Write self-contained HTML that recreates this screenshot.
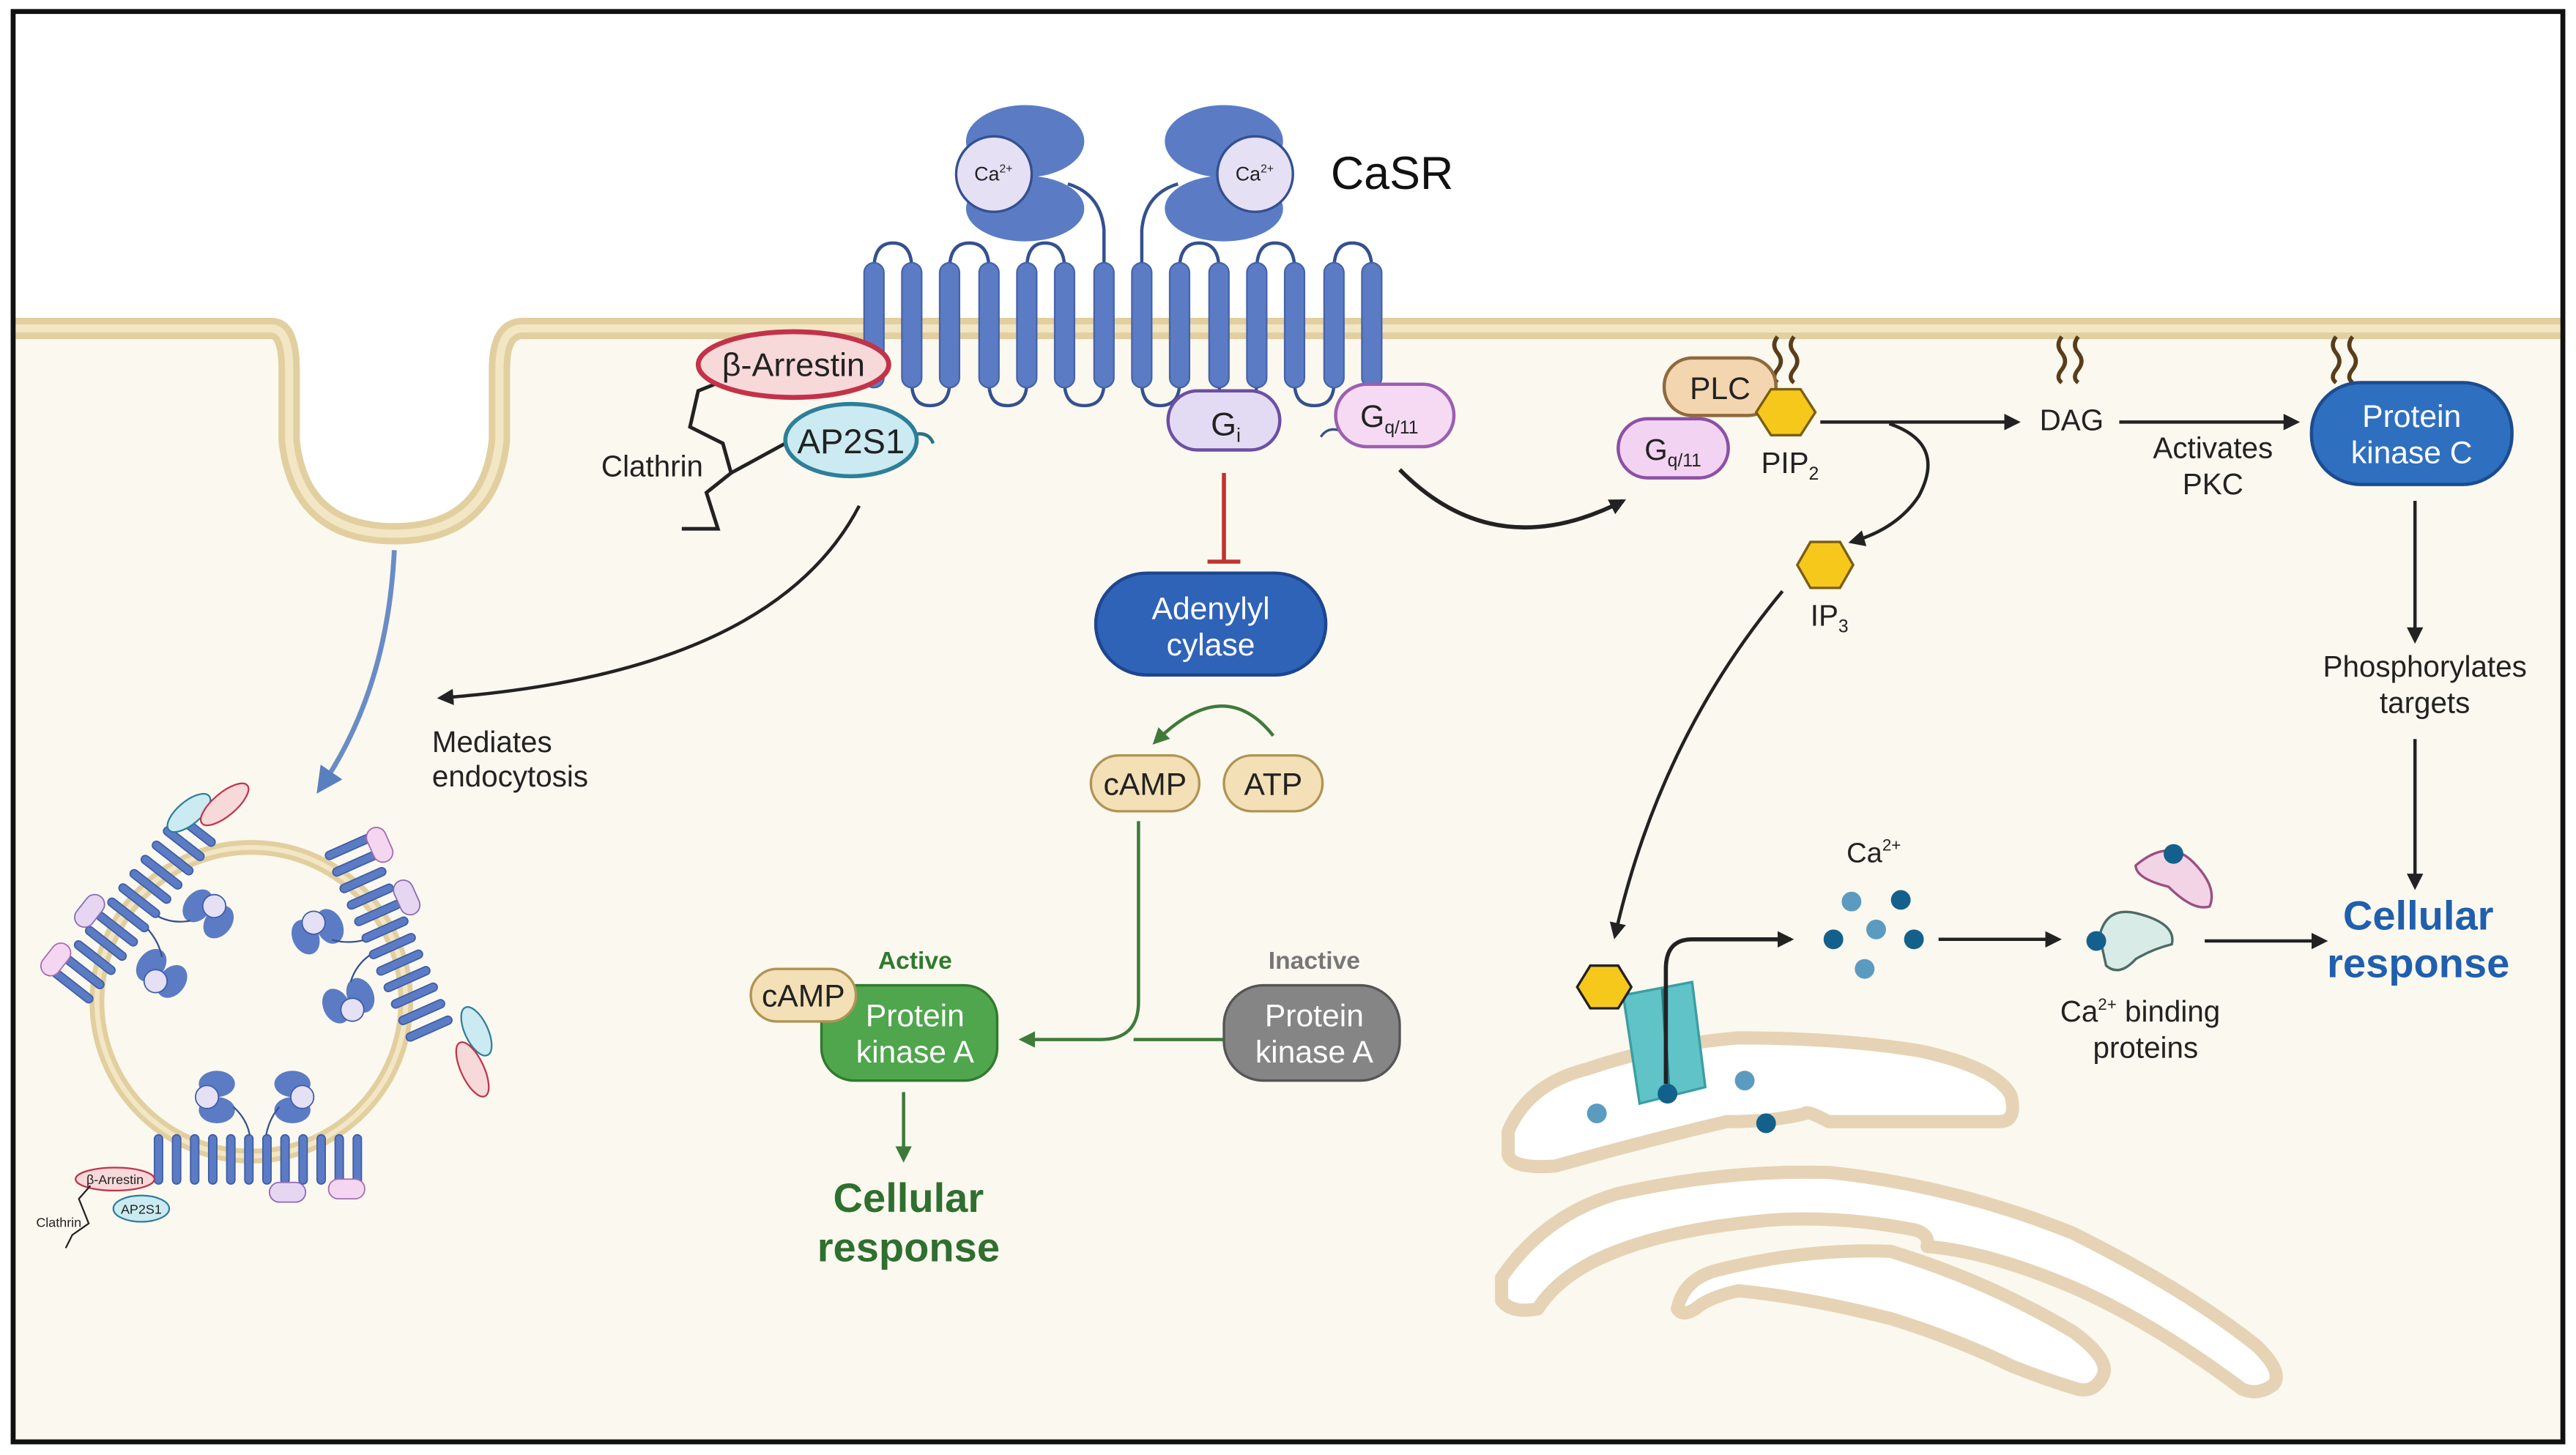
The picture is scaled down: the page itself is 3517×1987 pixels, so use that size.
<!DOCTYPE html>
<html><head><meta charset="utf-8"><style>
html,body{margin:0;padding:0;background:#fff}
svg{display:block}
text{font-family:"Liberation Sans",sans-serif}
</style></head><body>
<svg width="3517" height="1987" viewBox="0 0 1568 886" preserveAspectRatio="none" xmlns="http://www.w3.org/2000/svg">
<defs>
<marker id="ak" markerWidth="10" markerHeight="10" refX="8" refY="5" orient="auto" markerUnits="userSpaceOnUse"><path d="M0,0 L10,5 L0,10 z" fill="#222"/></marker>
<marker id="ag" markerWidth="10" markerHeight="10" refX="8" refY="5" orient="auto" markerUnits="userSpaceOnUse"><path d="M0,0 L10,5 L0,10 z" fill="#3f7a3a"/></marker>
<marker id="ab" markerWidth="16" markerHeight="16" refX="12" refY="8" orient="auto" markerUnits="userSpaceOnUse"><path d="M0,0 L16,8 L0,16 z" fill="#5a7fbf"/></marker>
<g id="rec">
  <g fill="#5b7cc4" stroke="#3e5ea8" stroke-width="0.8">
    <rect x="-62" y="-15" width="5" height="30" rx="2.5"/><rect x="-51" y="-15" width="5" height="30" rx="2.5"/>
    <rect x="-40" y="-15" width="5" height="30" rx="2.5"/><rect x="-29" y="-15" width="5" height="30" rx="2.5"/>
    <rect x="-18" y="-15" width="5" height="30" rx="2.5"/><rect x="-7" y="-15" width="5" height="30" rx="2.5"/>
    <rect x="4" y="-15" width="5" height="30" rx="2.5"/><rect x="15" y="-15" width="5" height="30" rx="2.5"/>
    <rect x="26" y="-15" width="5" height="30" rx="2.5"/><rect x="37" y="-15" width="5" height="30" rx="2.5"/>
    <rect x="48" y="-15" width="5" height="30" rx="2.5"/><rect x="59" y="-15" width="5" height="30" rx="2.5"/>
  </g>
  <g fill="#5b7cc4"><ellipse cx="-24" cy="-46" rx="11" ry="8"/><ellipse cx="-24" cy="-30" rx="11" ry="8"/><ellipse cx="22" cy="-46" rx="11" ry="8"/><ellipse cx="22" cy="-30" rx="11" ry="8"/></g>
  <circle cx="-30" cy="-38" r="7" fill="#e6e0f5" stroke="#3e5ea8" stroke-width="0.8"/>
  <circle cx="28" cy="-38" r="7" fill="#e6e0f5" stroke="#3e5ea8" stroke-width="0.8"/>
  <path d="M-4,-15 Q-6,-25 -14,-32 M6,-15 Q8,-25 14,-32" fill="none" stroke="#34508f" stroke-width="1"/>
  <rect x="8" y="14" width="22" height="12" rx="6" fill="#e6d6f2" stroke="#8b6bb5" stroke-width="0.8"/>
  <rect x="44" y="12" width="22" height="12" rx="6" fill="#f4d6f0" stroke="#a86bb5" stroke-width="0.8"/>
</g>
</defs>

<rect x="0" y="0" width="1568" height="886" fill="#fff"/>
<path d="M8,203 L170,203 Q180,203 180,230 L180,270 Q185,320 240,320 Q295,320 300,270 L300,230 Q300,203 315,203 L1560,203 L1560,878 L8,878 Z" fill="#fbf8ef"/>
<path d="M8,200 L165,200 Q176,200 176,225 L176,268 Q182,325 240,325 Q298,325 304,268 L304,225 Q304,200 318,200 L1560,200" fill="none" stroke="#e2cf9f" stroke-width="13"/>
<path d="M8,200 L165,200 Q176,200 176,225 L176,268 Q182,325 240,325 Q298,325 304,268 L304,225 Q304,200 318,200 L1560,200" fill="none" stroke="#f3e6c4" stroke-width="5"/>
<rect x="8" y="7" width="1552" height="871" fill="none" stroke="#111" stroke-width="3"/>

<!-- receptor loops -->
<g fill="none" stroke="#34508f" stroke-width="2">
  <path d="M532,164 Q532,148 543.5,148 Q555,148 555,164"/>
  <path d="M578,164 Q578,148 590,148 Q602,148 602,164"/>
  <path d="M625,164 Q625,148 636,148 Q648,148 648,164"/>
  <path d="M718,164 Q718,148 730,148 Q742,148 742,164"/>
  <path d="M765,164 Q765,148 776,148 Q788,148 788,164"/>
  <path d="M812,164 Q812,148 823,148 Q835,148 835,164"/>
  <path d="M555,233 Q555,247 566,247 Q578,247 578,233"/>
  <path d="M602,233 Q602,247 613,247 Q625,247 625,233"/>
  <path d="M648,233 Q648,247 660,247 Q672,247 672,233"/>
  <path d="M695,233 Q695,247 706,247 Q718,247 718,233"/>
  <path d="M742,233 Q742,247 753,247 Q765,247 765,233"/>
  <path d="M788,233 Q788,247 800,247 Q812,247 812,233"/>
  <path d="M672,164 L672,140 Q670,118 650,112"/>
  <path d="M695,164 L695,140 Q697,118 717,112"/>
</g>
<g fill="#5b7cc4" stroke="#4563a8" stroke-width="1">
  <rect x="526" y="160" width="12" height="76" rx="6"/><rect x="549" y="160" width="12" height="76" rx="6"/>
  <rect x="572" y="160" width="12" height="76" rx="6"/><rect x="596" y="160" width="12" height="76" rx="6"/>
  <rect x="619" y="160" width="12" height="76" rx="6"/><rect x="642" y="160" width="12" height="76" rx="6"/>
  <rect x="666" y="160" width="12" height="76" rx="6"/><rect x="689" y="160" width="12" height="76" rx="6"/>
  <rect x="712" y="160" width="12" height="76" rx="6"/><rect x="736" y="160" width="12" height="76" rx="6"/>
  <rect x="759" y="160" width="12" height="76" rx="6"/><rect x="782" y="160" width="12" height="76" rx="6"/>
  <rect x="806" y="160" width="12" height="76" rx="6"/><rect x="829" y="160" width="12" height="76" rx="6"/>
</g>
<!-- heads -->
<g fill="#5b7cc4">
  <ellipse cx="624" cy="86" rx="36" ry="22"/><ellipse cx="624" cy="127" rx="36" ry="20"/>
  <ellipse cx="745" cy="86" rx="36" ry="22"/><ellipse cx="745" cy="127" rx="36" ry="20"/>
</g>
<circle cx="605" cy="106" r="23" fill="#e6e0f5" stroke="#34508f" stroke-width="1.5"/>
<circle cx="764" cy="106" r="23" fill="#e6e0f5" stroke="#34508f" stroke-width="1.5"/>
<text x="593" y="110" font-size="12" fill="#222">Ca<tspan font-size="7" dy="-5">2+</tspan></text>
<text x="752" y="110" font-size="12" fill="#222">Ca<tspan font-size="7" dy="-5">2+</tspan></text>
<text x="810" y="115" font-size="28" fill="#111">CaSR</text>

<rect x="711" y="238" width="68" height="36" rx="18" fill="#e3dbf3" stroke="#6c4fa3" stroke-width="2"/>
<text x="737" y="265" font-size="20" fill="#222">G<tspan font-size="12" dy="4">i</tspan></text>
<path d="M804,266 Q808,260 815,262" fill="none" stroke="#34508f" stroke-width="1.5"/>
<rect x="813" y="234" width="72" height="38" rx="19" fill="#f6daf4" stroke="#9b5fb0" stroke-width="2"/>
<text x="828" y="260" font-size="19" fill="#222">G<tspan font-size="11" dy="4">q/11</tspan></text>

<g fill="none" stroke="#222" stroke-width="2.2">
  <path d="M445,230 L425,238 L420,260 L440,270 L445,288 L430,300 L437,322 L415,322"/>
  <path d="M445,288 L478,270"/>
</g>
<ellipse cx="483" cy="222" rx="58" ry="20" fill="#f7d9da" stroke="#c2334a" stroke-width="3"/>
<text x="483" y="229" font-size="20" text-anchor="middle" fill="#222">β-Arrestin</text>
<path d="M555,265 Q565,262 568,270" fill="none" stroke="#2b6f88" stroke-width="2"/>
<ellipse cx="518" cy="268" rx="40" ry="22" fill="#cbeaf1" stroke="#2d7f99" stroke-width="2.5"/>
<text x="518" y="276" font-size="21" text-anchor="middle" fill="#222">AP2S1</text>
<text x="366" y="290" font-size="18" fill="#222">Clathrin</text>

<path d="M523,308 Q470,410 268,425" fill="none" stroke="#222" stroke-width="2" marker-end="url(#ak)"/>
<text x="263" y="458" font-size="18" fill="#222">Mediates</text>
<text x="263" y="479" font-size="18" fill="#222">endocytosis</text>
<path d="M240,335 Q236,420 195,480" fill="none" stroke="#6a8cc6" stroke-width="3" marker-end="url(#ab)"/>

<!-- vesicle -->
<circle cx="153" cy="610" r="94" fill="none" stroke="#e2cf9f" stroke-width="9"/>
<circle cx="153" cy="610" r="94" fill="none" stroke="#f3e6c4" stroke-width="3"/>
<use href="#rec" transform="translate(156,706)"/>
<use href="#rec" transform="translate(82,552) rotate(128)"/>
<use href="#rec" transform="translate(237,572) rotate(246)"/>
<ellipse cx="70" cy="718" rx="24" ry="7" fill="#f7d9da" stroke="#c2334a" stroke-width="1"/>
<text x="70" y="721" font-size="8" text-anchor="middle" fill="#222">β-Arrestin</text>
<ellipse cx="86" cy="736" rx="17" ry="8" fill="#cbeaf1" stroke="#2d7f99" stroke-width="1"/>
<text x="86" y="739" font-size="8" text-anchor="middle" fill="#222">AP2S1</text>
<text x="22" y="747" font-size="8" fill="#222">Clathrin</text>
<path d="M55,722 L48,730 L54,745 L44,752 L40,760" fill="none" stroke="#222" stroke-width="1"/>
<g transform="translate(115,495) rotate(-40)"><ellipse cx="0" cy="0" rx="16" ry="7" fill="#cbeaf1" stroke="#2d7f99"/><ellipse cx="20" cy="10" rx="18" ry="7" fill="#f7d9da" stroke="#c2334a"/></g>
<g transform="translate(290,628) rotate(65)"><ellipse cx="0" cy="0" rx="16" ry="7" fill="#cbeaf1" stroke="#2d7f99"/><ellipse cx="20" cy="12" rx="18" ry="7" fill="#f7d9da" stroke="#c2334a"/></g>

<!-- Gi path -->
<line x1="745" y1="288" x2="745" y2="342" stroke="#c0342d" stroke-width="2.5"/>
<line x1="735" y1="342" x2="755" y2="342" stroke="#c0342d" stroke-width="2.5"/>
<rect x="667" y="349" width="140" height="62" rx="31" fill="#2f63b8" stroke="#1d4690" stroke-width="2"/>
<text x="737" y="377" font-size="19" text-anchor="middle" fill="#fff">Adenylyl</text>
<text x="737" y="399" font-size="19" text-anchor="middle" fill="#fff">cylase</text>
<path d="M775,448 Q745,410 703,452" fill="none" stroke="#3f7a3a" stroke-width="2" marker-end="url(#ag)"/>
<rect x="664" y="460" width="66" height="34" rx="17" fill="#f4e0b6" stroke="#b09455" stroke-width="1.5"/>
<text x="697" y="484" font-size="19" text-anchor="middle" fill="#222">cAMP</text>
<rect x="745" y="460" width="60" height="34" rx="17" fill="#f4e0b6" stroke="#b09455" stroke-width="1.5"/>
<text x="775" y="484" font-size="19" text-anchor="middle" fill="#222">ATP</text>
<path d="M693,500 L693,610 Q693,633 670,633 L622,633" fill="none" stroke="#3f7a3a" stroke-width="2" marker-end="url(#ag)"/>
<line x1="745" y1="633" x2="690" y2="633" stroke="#3f7a3a" stroke-width="2"/>
<text x="557" y="590" font-size="15" font-weight="bold" text-anchor="middle" fill="#2f7a2f">Active</text>
<rect x="500" y="600" width="107" height="58" rx="20" fill="#4fa64c" stroke="#2f7a2f" stroke-width="1.5"/>
<rect x="457" y="590" width="64" height="32" rx="16" fill="#f4e0b6" stroke="#b09455" stroke-width="1.5"/>
<text x="489" y="613" font-size="19" text-anchor="middle" fill="#222">cAMP</text>
<text x="557" y="625" font-size="19" text-anchor="middle" fill="#fff">Protein</text>
<text x="557" y="647" font-size="19" text-anchor="middle" fill="#fff">kinase A</text>
<text x="800" y="590" font-size="15" font-weight="bold" text-anchor="middle" fill="#777">Inactive</text>
<rect x="745" y="600" width="107" height="58" rx="24" fill="#858585" stroke="#555" stroke-width="1.5"/>
<text x="800" y="625" font-size="19" text-anchor="middle" fill="#fff">Protein</text>
<text x="800" y="647" font-size="19" text-anchor="middle" fill="#fff">kinase A</text>
<line x1="550" y1="665" x2="550" y2="706" stroke="#3f7a3a" stroke-width="2" marker-end="url(#ag)"/>
<text x="553" y="738" font-size="25" font-weight="bold" text-anchor="middle" fill="#2f6f2f">Cellular</text>
<text x="553" y="768" font-size="25" font-weight="bold" text-anchor="middle" fill="#2f6f2f">response</text>

<!-- Gq path -->
<path d="M852,286 Q910,345 988,305" fill="none" stroke="#222" stroke-width="2.5" marker-end="url(#ak)"/>
<g stroke="#5a3d1a" stroke-width="2.5" fill="none">
  <path d="M1082,205 q-4,5 0,10 q4,5 0,10 q-4,5 0,8"/><path d="M1092,205 q-4,5 0,10 q4,5 0,10 q-4,5 0,8"/>
  <path d="M1255,205 q-4,5 0,10 q4,5 0,10 q-4,5 0,8"/><path d="M1265,205 q-4,5 0,10 q4,5 0,10 q-4,5 0,8"/>
  <path d="M1422,205 q-4,5 0,10 q4,5 0,10 q-4,5 0,8"/><path d="M1432,205 q-4,5 0,10 q4,5 0,10 q-4,5 0,8"/>
</g>
<rect x="1013" y="218" width="68" height="35" rx="17" fill="#f3d5b0" stroke="#8f6a3c" stroke-width="2"/>
<text x="1047" y="243" font-size="19" text-anchor="middle" fill="#222">PLC</text>
<rect x="985" y="255" width="67" height="36" rx="18" fill="#f3d3f2" stroke="#8d4fa4" stroke-width="2"/>
<text x="1001" y="280" font-size="18" fill="#222">G<tspan font-size="11" dy="4">q/11</tspan></text>
<polygon points="1078,237 1096,237 1105,251 1096,265 1078,265 1069,251" fill="#f7c81c" stroke="#7a5e10" stroke-width="1.5"/>
<text x="1072" y="288" font-size="18" fill="#222">PIP<tspan font-size="11" dy="4">2</tspan></text>
<path d="M1108,257 L1228,257" stroke="#222" stroke-width="2" marker-end="url(#ak)"/>
<path d="M1150,258 Q1185,270 1168,302 Q1155,322 1127,330" fill="none" stroke="#222" stroke-width="2" marker-end="url(#ak)"/>
<text x="1261" y="262" font-size="18" text-anchor="middle" fill="#222">DAG</text>
<path d="M1290,257 L1398,257" stroke="#222" stroke-width="2" marker-end="url(#ak)"/>
<text x="1347" y="279" font-size="18" text-anchor="middle" fill="#222">Activates</text>
<text x="1347" y="301" font-size="18" text-anchor="middle" fill="#222">PKC</text>
<rect x="1407" y="233" width="122" height="62" rx="30" fill="#2f6fc0" stroke="#1c4c8f" stroke-width="2"/>
<text x="1468" y="260" font-size="19" text-anchor="middle" fill="#fff">Protein</text>
<text x="1468" y="282" font-size="19" text-anchor="middle" fill="#fff">kinase C</text>
<line x1="1470" y1="305" x2="1470" y2="390" stroke="#222" stroke-width="2" marker-end="url(#ak)"/>
<text x="1476" y="412" font-size="18" text-anchor="middle" fill="#222">Phosphorylates</text>
<text x="1476" y="434" font-size="18" text-anchor="middle" fill="#222">targets</text>
<line x1="1470" y1="450" x2="1470" y2="540" stroke="#222" stroke-width="2" marker-end="url(#ak)"/>
<text x="1472" y="566" font-size="25" font-weight="bold" text-anchor="middle" fill="#1f5fae">Cellular</text>
<text x="1472" y="595" font-size="25" font-weight="bold" text-anchor="middle" fill="#1f5fae">response</text>
<polygon points="1102,330 1120,330 1128,344 1120,358 1102,358 1094,344" fill="#f7c81c" stroke="#7a5e10" stroke-width="1.5"/>
<text x="1102" y="381" font-size="18" fill="#222">IP<tspan font-size="11" dy="4">3</tspan></text>
<path d="M1085,360 Q1010,450 983,570" fill="none" stroke="#222" stroke-width="2" marker-end="url(#ak)"/>

<!-- ER -->
<g fill="#fff" stroke="#e6d3b5" stroke-width="8" stroke-linejoin="round">
  <path d="M918,689 Q930,660 966,651 Q1010,636 1058,632 Q1120,632 1169,640 Q1215,650 1224,667 Q1228,683 1217,683 L1113,683 Q1100,676 1099,678 Q1080,683 1051,683 Q1000,695 947,710 Q920,712 918,703 Z"/>
  <path d="M914,778 Q940,740 984,727 Q1050,712 1114,714 Q1190,722 1262,751 Q1330,785 1373,819 Q1390,835 1384,843 Q1375,850 1365,846 Q1310,805 1262,784 Q1210,762 1173,759 Q1175,752 1166,749 Q1120,740 1077,743 Q1020,748 984,762 Q950,775 936,797 Q920,800 914,792 Z"/>
  <path d="M1021,797 Q1025,778 1047,773 Q1100,760 1151,762 Q1210,780 1262,811 Q1285,828 1280,838 Q1275,848 1265,846 Q1245,840 1225,832 Q1190,815 1151,803 Q1100,790 1058,786 Q1040,790 1032,797 Q1024,802 1021,797 Z"/>
</g>
<g>
  <path d="M988,606 L1030,598 L1038,662 L998,672 Z" fill="#5fc3c8" stroke="#3a9ea3" stroke-width="1.5"/>
  <line x1="1012" y1="602" x2="1016" y2="668" stroke="#2f7d82" stroke-width="2"/>
</g>
<polygon points="968,588 985,588 993,601 985,614 968,614 960,601" fill="#f7c81c" stroke="#222" stroke-width="1.5"/>
<path d="M1014,660 L1014,590 Q1014,572 1030,572 L1090,572" fill="none" stroke="#222" stroke-width="2.5" marker-end="url(#ak)"/>
<g fill="#14608c"><circle cx="1015" cy="666" r="6"/><circle cx="1075" cy="684" r="6"/><circle cx="1116" cy="572" r="6"/><circle cx="1157" cy="548" r="6"/><circle cx="1165" cy="572" r="6"/></g>
<g fill="#5b9bc0"><circle cx="972" cy="678" r="6"/><circle cx="1062" cy="658" r="6"/><circle cx="1127" cy="549" r="6"/><circle cx="1142" cy="566" r="6"/><circle cx="1135" cy="590" r="6"/></g>
<text x="1124" y="525" font-size="17" fill="#222">Ca<tspan font-size="10" dy="-7">2+</tspan></text>
<line x1="1180" y1="572" x2="1253" y2="572" stroke="#222" stroke-width="2" marker-end="url(#ak)"/>
<path d="M1300,527 Q1320,510 1335,525 Q1350,540 1345,552 Q1335,555 1320,540 Q1300,535 1300,527 Z" fill="#f2d4e6" stroke="#9a4f80" stroke-width="1.5"/>
<path d="M1278,570 Q1282,552 1300,556 Q1325,562 1322,575 Q1310,578 1300,584 Q1290,595 1282,588 Z" fill="#d8ebe7" stroke="#4c6b66" stroke-width="1.5"/>
<circle cx="1323" cy="520" r="6" fill="#14608c"/><circle cx="1276" cy="573" r="6" fill="#14608c"/>
<text x="1254" y="622" font-size="18" fill="#222">Ca<tspan font-size="10" dy="-7">2+</tspan><tspan dy="7"> binding</tspan></text>
<text x="1306" y="644" font-size="18" text-anchor="middle" fill="#222">proteins</text>
<line x1="1342" y1="573" x2="1415" y2="573" stroke="#222" stroke-width="2" marker-end="url(#ak)"/>
</svg>
</body></html>
